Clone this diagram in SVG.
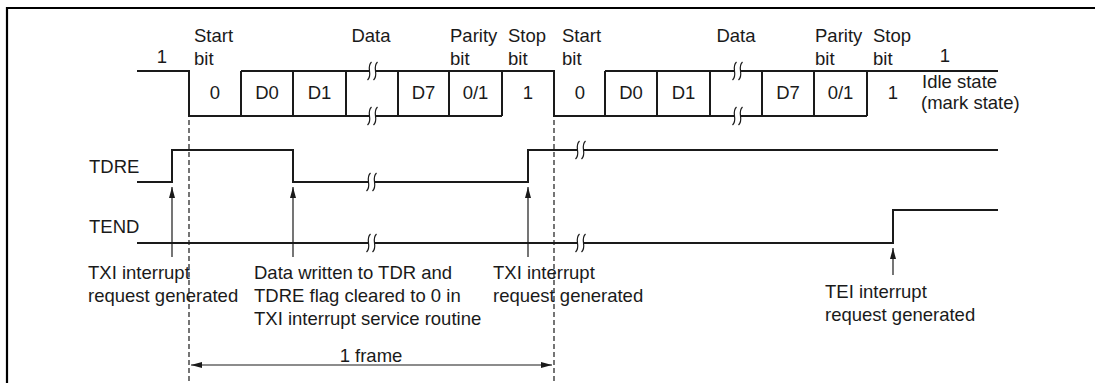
<svg xmlns="http://www.w3.org/2000/svg" width="1095" height="383" viewBox="0 0 1095 383">
<style>
text{font-family:"Liberation Sans",Arial,sans-serif;font-size:18.5px;fill:#1a1a1a}
.m{text-anchor:middle}
.w{fill:none;stroke:#1a1a1a;stroke-width:2;stroke-linejoin:miter;stroke-linecap:butt}
.a{fill:none;stroke:#1a1a1a;stroke-width:1.2}
.d{fill:none;stroke:#1a1a1a;stroke-width:1.2;stroke-dasharray:5 3}
</style>
<defs>
<marker id="ah" markerUnits="userSpaceOnUse" markerWidth="12" markerHeight="8" refX="11" refY="4" orient="auto-start-reverse">
<path d="M0,1 L11,4 L0,7 Z" fill="#1a1a1a"/>
</marker>
<g id="brk">
<path d="M-0.5,-9 Q-3.5,-6 -2.5,0 Q-1.5,6 -4.5,9 L1.5,9 Q4.5,6 3.5,0 Q2.5,-6 5.5,-9 Z" fill="#fff" stroke="none"/>
<path d="M-0.5,-9 Q-3.5,-6 -2.5,0 Q-1.5,6 -4.5,9 M5.5,-9 Q2.5,-6 3.5,0 Q4.5,6 1.5,9" fill="none" stroke="#1a1a1a" stroke-width="1.2"/>
</g>
</defs>
<rect width="1095" height="383" fill="#fff"/>
<path d="M7,383 V8 H1095" fill="none" stroke="#000" stroke-width="2.2"/>

<g id="dashed">
<line class="d" x1="189" y1="120" x2="189" y2="383"/>
<line class="d" x1="554" y1="120" x2="554" y2="383"/>
</g>

<g id="waveform">
<polyline class="w" points="137,71 189,71 189,116 502,116"/>
<polyline class="w" points="241,71 554,71 554,116 867,116"/>
<polyline class="w" points="605,71 998,71"/>
<path class="w" d="M241,71V116M293,71V116M346,71V116M398,71V116M449,71V116M502,71V116M605,71V116M657,71V116M710,71V116M762,71V116M814,71V116M867,71V116"/>
<use href="#brk" x="372" y="71"/>
<use href="#brk" x="372" y="116"/>
<use href="#brk" x="737" y="71"/>
<use href="#brk" x="737" y="116"/>
</g>

<g id="tdre">
<polyline class="w" points="137,182 172,182 172,150 293,150 293,182 528,182 528,150 998,150"/>
<use href="#brk" x="371" y="182"/>
<use href="#brk" x="580" y="150"/>
<text x="89" y="173">TDRE</text>
</g>

<g id="tend">
<polyline class="w" points="137,243 893,243 893,210 998,210"/>
<use href="#brk" x="371" y="243"/>
<use href="#brk" x="580" y="243"/>
<text x="89" y="233">TEND</text>
</g>

<g id="labels-top">
<text class="m" x="162" y="63">1</text>
<text x="194" y="42">Start</text><text x="194" y="65">bit</text>
<text class="m" x="371" y="42">Data</text>
<text x="450" y="42">Parity</text><text x="450" y="65">bit</text>
<text x="508" y="42">Stop</text><text x="508" y="65">bit</text>
<text x="562" y="42">Start</text><text x="562" y="65">bit</text>
<text class="m" x="736" y="42">Data</text>
<text x="815" y="42">Parity</text><text x="815" y="65">bit</text>
<text x="873" y="42">Stop</text><text x="873" y="65">bit</text>
<text class="m" x="945" y="62">1</text>
<text x="922" y="88">Idle state</text>
<text x="921" y="109">(mark state)</text>
</g>

<g id="bits">
<text class="m" x="215" y="99">0</text>
<text class="m" x="267" y="99">D0</text>
<text class="m" x="319.5" y="99">D1</text>
<text class="m" x="423.5" y="99">D7</text>
<text class="m" x="475.5" y="99">0/1</text>
<text class="m" x="528" y="99">1</text>
<text class="m" x="580" y="99">0</text>
<text class="m" x="631" y="99">D0</text>
<text class="m" x="683.5" y="99">D1</text>
<text class="m" x="788" y="99">D7</text>
<text class="m" x="840.5" y="99">0/1</text>
<text class="m" x="893" y="99">1</text>
</g>

<g id="connectors">
<line class="a" x1="172" y1="257" x2="172" y2="187" marker-end="url(#ah)"/>
<line class="a" x1="293" y1="257" x2="293" y2="187" marker-end="url(#ah)"/>
<line class="a" x1="528" y1="257" x2="528" y2="187" marker-end="url(#ah)"/>
<line class="a" x1="893" y1="275" x2="893" y2="248" marker-end="url(#ah)"/>
<line class="a" x1="191" y1="365" x2="552" y2="365" marker-start="url(#ah)" marker-end="url(#ah)"/>
</g>

<g id="notes">
<text x="88" y="279">TXI interrupt</text>
<text x="88" y="302">request generated</text>
<text x="254" y="279">Data written to TDR and</text>
<text x="254" y="302">TDRE flag cleared to 0 in</text>
<text x="254" y="325">TXI interrupt service routine</text>
<text x="493" y="279">TXI interrupt</text>
<text x="493" y="302">request generated</text>
<text x="825" y="298">TEI interrupt</text>
<text x="825" y="321">request generated</text>
<text class="m" x="371" y="362">1 frame</text>
</g>
</svg>
